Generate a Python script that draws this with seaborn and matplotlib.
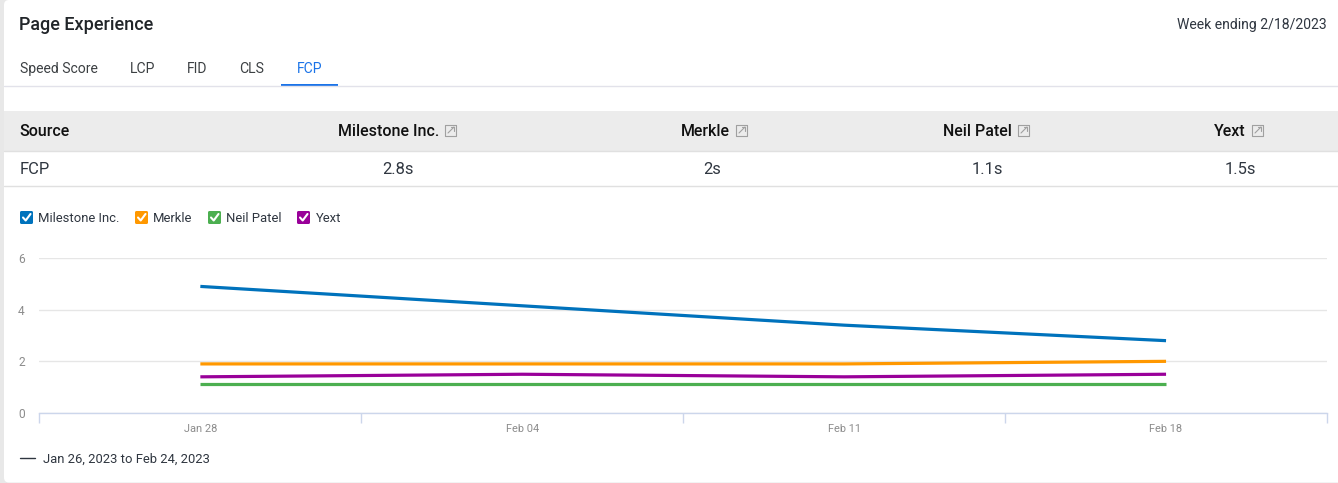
import pandas as pd
import matplotlib
matplotlib.use('Agg')
import matplotlib.pyplot as plt
from matplotlib.patches import FancyBboxPatch, Rectangle
import seaborn as sns

weeks = ['Jan 28', 'Feb 04', 'Feb 11', 'Feb 18']
sources = ['Milestone Inc.', 'Merkle', 'Neil Patel', 'Yext']
milestone = [4.9, 4.15, 3.4, 2.8]
merkle = [1.9, 1.9, 1.9, 2.0]
neil_patel = [1.13, 1.13, 1.13, 1.13]
yext = [1.4, 1.5, 1.4, 1.5]
fcp_labels = ['2.8s', '2s', '1.1s', '1.5s']
tabs = ['Speed Score', 'LCP', 'FID', 'CLS', 'FCP']
yticks = [0, 2, 4, 6]
colors = ['#0072BC', '#FF9800', '#4CAF50', '#990099']

W, H = 1338, 483


def px(size):
    return size * 72 / 100


sns.set_theme(style='white')
plt.rcParams['font.family'] = ['Roboto', 'DejaVu Sans']

fig = plt.figure(figsize=(W / 100, H / 100), dpi=100, facecolor='white')

# page chrome in pixel coordinates
bg = fig.add_axes([0, 0, 1, 1], zorder=0)
bg.set_xlim(0, W)
bg.set_ylim(H, 0)
bg.axis('off')
bg.add_patch(Rectangle((0, 0), W, H, color='#E8E8E8', lw=0))
bg.add_patch(FancyBboxPatch((4, 0), W + 20, H - 0.5, boxstyle='round,pad=0,rounding_size=5',
                            fc='white', ec='none'))

text_dark = '#212529'
bg.text(19, 25, 'Page Experience', fontsize=px(18), fontweight='medium', color=text_dark, va='center')
bg.text(1327, 25, 'Week ending 2/18/2023', fontsize=px(14), color='#2F3640', va='center', ha='right')

tab_x = [20, 130, 187, 239.5, 297]
for x, t in zip(tab_x, tabs):
    bg.text(x, 69, t, fontsize=px(14), va='center', color='#1A73E8' if t == 'FCP' else '#3C4043')
bg.plot([4, W], [86, 86], color='#E2E2EA', lw=1)
bg.add_patch(Rectangle((281, 84), 57, 2, color='#1A73E8', lw=0))

# table
bg.add_patch(Rectangle((4, 111), W, 40, color='#ECECEC', lw=0))
bg.plot([4, W], [151, 151], color='#E0E0E0', lw=1)
bg.plot([4, W], [186, 186], color='#E0E0E0', lw=1)
bg.text(19.5, 131.5, 'Source', fontsize=px(16), fontweight='medium', color='#111111', va='center')
bg.text(20, 169.5, 'FCP', fontsize=px(16.5), color='#2F3640', va='center')

name_right = [439, 730, 1012, 1246]
value_center = [398, 712, 987, 1240]
for s, r, v, c in zip(sources, name_right, fcp_labels, value_center):
    bg.text(r, 131.5, s, fontsize=px(16), fontweight='medium', color='#111111', va='center', ha='right')
    bg.text(c, 169.5, v, fontsize=px(16.5), color='#2F3640', va='center', ha='center')
    # external link icon
    ix = r + 6
    bg.plot([ix + 11, ix, ix, ix + 11, ix + 11], [125, 125, 136, 136, 125], color='#A0A0A0', lw=0.8)
    bg.plot([ix + 3, ix + 9], [133, 127], color='#A0A0A0', lw=0.8)
    bg.plot([ix + 5.5, ix + 9, ix + 9], [127, 127, 130.5], color='#A0A0A0', lw=0.8)

# legend checkboxes
box_x = [20, 135, 208, 297]
label_x = [38.2, 153.2, 226.2, 315.6]
for s, x, lx, col in zip(sources, box_x, label_x, colors):
    bg.add_patch(FancyBboxPatch((x, 211), 13, 13, boxstyle='round,pad=0,rounding_size=1.5', fc=col, ec='none'))
    bg.plot([x + 3, x + 5.7, x + 10.5], [217.5, 220.5, 214], color='white', lw=1.5)
    bg.text(lx, 218.5, s, fontsize=px(13), color='#2F3640', va='center')

bg.plot([20, 35], [458, 458], color='#2F3640', lw=1)
bg.text(43, 459, 'Jan 26, 2023 to Feb 24, 2023', fontsize=px(13), color='#2F3640', va='center')

# line chart
left, right, top, bottom = 39.4, 1327, 258, 413
ax = fig.add_axes([left / W, 1 - bottom / H, (right - left) / W, (bottom - top) / H], zorder=1)
ax.patch.set_alpha(0)

df = pd.concat([
    pd.DataFrame({'week': weeks, 'source': name, 'fcp': vals})
    for name, vals in zip(sources, [milestone, merkle, neil_patel, yext])
])
sns.lineplot(data=df, x='week', y='fcp', hue='source', hue_order=sources, palette=colors,
             linewidth=2.3, legend=False, ax=ax, solid_capstyle='butt', errorbar=None)

ax.set_xlim(-0.5, 3.5)
ax.set_ylim(0, 6)
ax.set_xlabel('')
ax.set_ylabel('')
ax.set_yticks(yticks)
ax.set_xticks([-0.5, 0.5, 1.5, 2.5, 3.5])
ax.set_xticklabels([])
ax.set_xticks(range(len(weeks)), labels=weeks, minor=True)
ax.tick_params(axis='x', which='major', length=7, width=1, color='#CCD6EB', direction='out', bottom=True)
ax.tick_params(axis='x', which='minor', length=0, pad=8, labelsize=px(11), labelcolor='#8C8C8C')
ax.tick_params(axis='y', length=0, pad=10.5, labelsize=px(12), labelcolor='#8C8C8C')
ax.grid(axis='y', color='#E6E6E6', lw=1)
ax.set_axisbelow(True)
sns.despine(ax=ax, left=True, top=True, right=True)
ax.spines['bottom'].set_color('#CCD6EB')
ax.spines['bottom'].set_linewidth(1)

fig.savefig('out.png', dpi=100)
